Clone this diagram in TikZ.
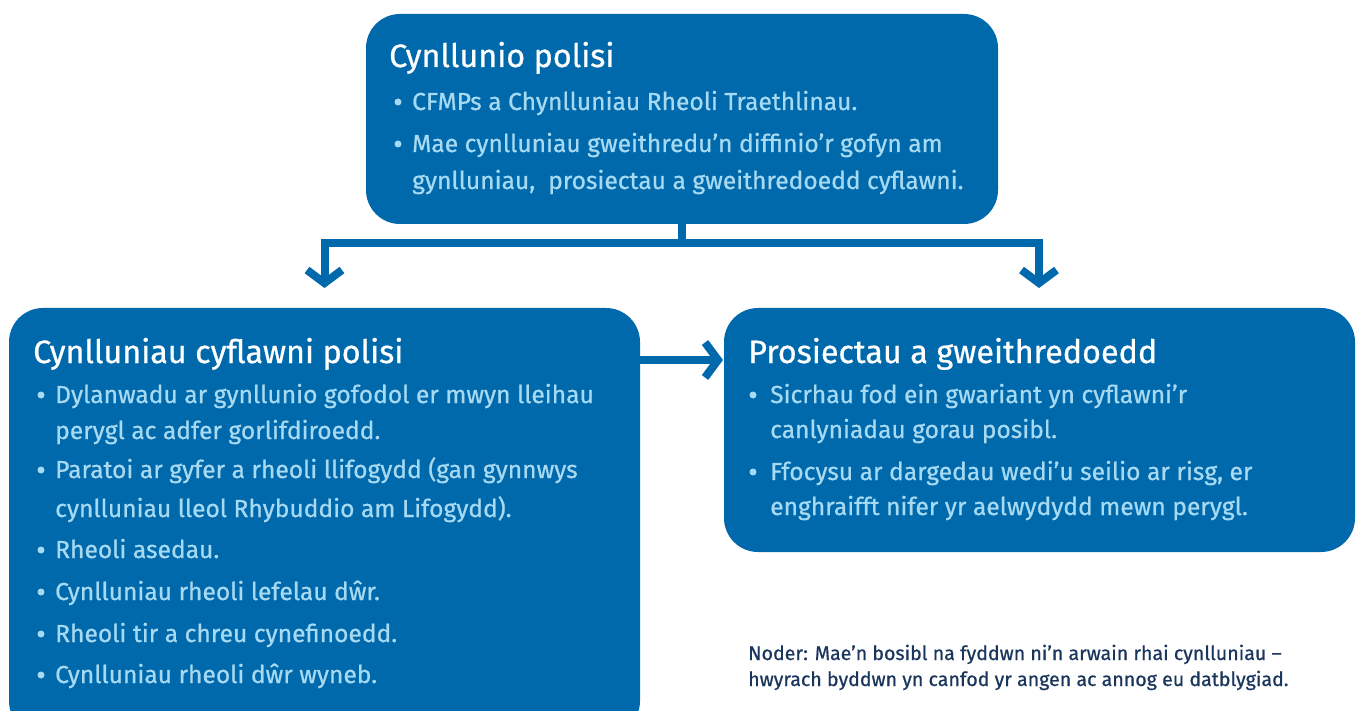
\documentclass[tikz,border=0pt]{standalone}
\usepackage{fontspec}
\setmainfont[FakeBold=0.7]{Fira Sans}
\usetikzlibrary{arrows.meta}
\definecolor{boxblue}{RGB}{0,105,171}
\definecolor{bultext}{RGB}{166,218,243}
\definecolor{notetext}{RGB}{27,54,93}
\tikzset{
  panel/.style={fill=boxblue, draw=none, rounded corners=34pt, inner sep=0pt, outer sep=0pt},
  ttl/.style={anchor=base west, inner sep=0pt, text=white, font=\fontsize{32.3}{32}\selectfont},
  itm/.style={anchor=base west, inner sep=0pt, text=bultext, font=\fontsize{24.6}{24}\selectfont},
  bul/.style={fill=bultext, draw=none, circle, minimum size=7pt, inner sep=0pt},
  note/.style={anchor=base west, inner sep=0pt, text=notetext, font=\fontsize{19.6}{19}\selectfont},
  conn/.style={draw=boxblue, line width=8pt},
  tip/.style={-{Straight Barb[length=13pt,width=35pt,line width=8pt]}},
}
\begin{document}
\begin{tikzpicture}[x=1pt,y=-1pt]
\useasboundingbox (0,0) rectangle (1358,711);
\clip (0,0) rectangle (1358,711);
% boxes
\path[panel] (366,14) rectangle (998,224);
\node[inner sep=0pt] (top) at (682,119) [minimum width=632pt, minimum height=210pt] {};
\path[panel] (9,308) rectangle (640,735);
\node[inner sep=0pt] (left) at (324.5,521) [minimum width=631pt, minimum height=426pt] {};
\path[panel] (724,308) rectangle (1355,552);
\node[inner sep=0pt] (right) at (1039.5,430) [minimum width=631pt, minimum height=244pt] {};
% connectors
\coordinate (j) at (682,243.5);
\coordinate (jl) at (324.5,243.5);
\coordinate (jr) at (1039,243.5);
\draw[conn] (top.south) -- (j);
\draw[conn, line cap=butt] ([xshift=-4pt]jl) -- ([xshift=4pt]jr);
\draw[conn, tip] ([yshift=-4pt]jl) -- (324.5,288);
\draw[conn, tip] ([yshift=-4pt]jr) -- (1039,288);
\draw[conn, tip] (left.east |- 0,360) -- (723,360);
% top box text
\node[ttl] (t0) at (389,67) {Cynllunio polisi};
\node[bul] at (398,102) {}; \node[itm] (t1) at (412,110) {CFMPs a Chynlluniau Rheoli Traethlinau.};
\node[bul] at (398,144) {}; \node[itm] (t2) at (412,152) {Mae cynlluniau gweithredu’n diffinio’r gofyn am};
\node[itm] (t3) at (412,189) {gynlluniau,\ \ prosiectau a gweithredoedd cyflawni.};
% left box text
\node[ttl] (l0) at (33,363) {Cynlluniau cyflawni polisi};
\node[bul] at (41,395) {}; \node[itm] (l1) at (55,403) {Dylanwadu ar gynllunio gofodol er mwyn lleihau};
\node[itm] (l2) at (55,439) {perygl ac adfer gorlifdiroedd.};
\node[bul] at (41,470) {}; \node[itm] (l3) at (55,478) {Paratoi ar gyfer a rheoli llifogydd (gan gynnwys};
\node[itm] (l4) at (55,517) {cynlluniau lleol Rhybuddio am Lifogydd).};
\node[bul] at (41,550) {}; \node[itm] (l5) at (55,558) {Rheoli asedau.};
\node[bul] at (41,592) {}; \node[itm] (l6) at (55,600) {Cynlluniau rheoli lefelau dŵr.};
\node[bul] at (41,634) {}; \node[itm] (l7) at (55,642) {Rheoli tir a chreu cynefinoedd.};
\node[bul] at (41,675) {}; \node[itm] (l8) at (55,683) {Cynlluniau rheoli dŵr wyneb.};
% right box text
\node[ttl] (r0) at (748,363) {Prosiectau a gweithredoedd};
\node[bul] at (753,395) {}; \node[itm] (r1) at (770,403) {Sicrhau fod ein gwariant yn cyflawni’r};
\node[itm] (r2) at (770,438) {canlyniadau gorau posibl.};
\node[bul] at (753,472) {}; \node[itm] (r3) at (770,480) {Ffocysu ar dargedau wedi’u seilio ar risg, er};
\node[itm] (r4) at (770,515) {enghraifft nifer yr aelwydydd mewn perygl.};
% note
\node[note] (n1) at (748,660) {Noder: Mae’n bosibl na fyddwn ni’n arwain rhai cynlluniau –};
\node[note] (n2) at (748,686) {hwyrach byddwn yn canfod yr angen ac annog eu datblygiad.};
\end{tikzpicture}
\end{document}
